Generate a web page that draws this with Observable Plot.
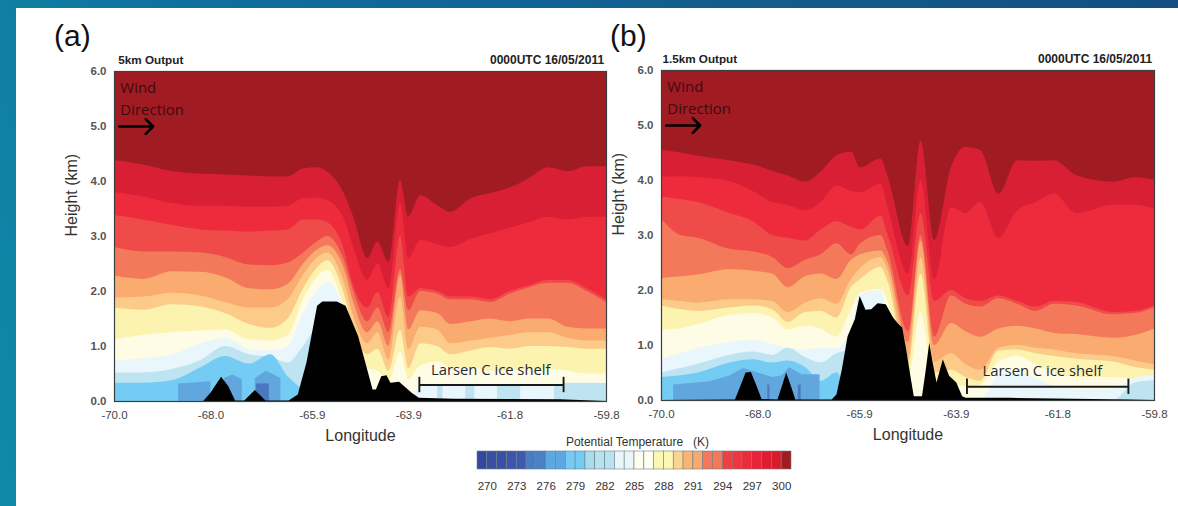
<!DOCTYPE html>
<html>
<head>
<meta charset="utf-8">
<script src="https://cdn.jsdelivr.net/npm/d3@7"></script>
<script src="https://cdn.jsdelivr.net/npm/@observablehq/plot@0.6"></script>
<style>
html,body{margin:0;padding:0;width:1178px;height:506px;overflow:hidden;background:linear-gradient(75deg,#0f8aa8 0%,#0f6f9c 25%,#125f90 60%,#134f80 100%);}
#sheet{position:absolute;left:16px;top:8px;width:1162px;height:498px;background:#fff;}
.abs{position:absolute;}
.abs svg{display:block;background:transparent;}
.tag{position:absolute;font:30px "Liberation Sans",Arial,sans-serif;color:#111;}
</style>
</head>
<body>
<div id="sheet"></div>
<div class="tag" style="left:54px;top:19px">(a)</div>
<div class="tag" style="left:610px;top:19px">(b)</div>
<div id="pa" class="abs" style="left:56px;top:40px"></div>
<div id="pb" class="abs" style="left:603px;top:40px"></div>
<div id="cb" class="abs" style="left:440px;top:430px"></div>
<script>
// ---------- shared -----------
const bandColors = ["#d81f33","#ee2b3c","#ef4c49","#f3795a","#f9ab70","#fccb8a","#fdf3b0","#fffce6","#e9f6fb","#bde4f0","#74ccf4"];
const topColor = "#a01c22";
const xTicks = [-70,-68,-65.9,-63.9,-61.8,-59.8];
const yTicks = [0,1,2,3,4,5,6];

// ---------- panel (a) 5 km -----------
const lonA = [-70,-69.4,-68.8,-68.2,-67.7,-67.2,-66.76,-66.4,-66.08,-65.8,-65.58,-65.25,-65.04,-64.75,-64.54,-64.31,-64.07,-63.9,-63.65,-63.3,-63.03,-62.6,-62.2,-61.8,-61.4,-61,-60.6,-60.2,-59.8];
const a1 = [4.38,4.3,4.18,4.13,4.12,4.1,4.08,4.08,4.23,4.25,4.17,3.8,3.35,2.6,2.9,2.53,4.02,3.35,3.74,3.56,3.44,3.69,3.78,3.88,4.05,4.25,4.18,4.27,4.27];
const a2 = [3.8,3.72,3.6,3.55,3.55,3.53,3.53,3.55,3.69,3.7,3.65,3.35,2.8,2.2,2.5,2.05,3.6,2.6,2.93,2.85,2.8,2.95,3.05,3.15,3.25,3.35,3.3,3.35,3.35];
const a3 = [3.38,3.3,3.2,3.12,3.1,3.08,3.1,3.12,3.3,3.3,3.25,2.8,2.1,1.7,1.98,1.52,3.0,1.9,2.05,2.0,1.9,1.9,1.85,2.0,2.1,2.2,2.2,2.05,1.85];
const a4 = [2.8,2.72,2.72,2.7,2.62,2.48,2.47,2.52,2.7,2.9,3.0,2.6,2.0,1.45,1.7,1.25,2.4,1.65,2.0,1.95,1.85,1.85,1.8,1.95,2.07,2.15,2.15,2.0,1.8];
const a5 = [2.28,2.22,2.36,2.35,2.25,2.05,2.03,2.13,2.5,2.75,2.83,2.45,1.8,1.25,1.45,1.0,2.3,1.3,1.65,1.6,1.4,1.45,1.5,1.45,1.5,1.5,1.35,1.32,1.32];
const a6 = [1.88,1.9,1.97,1.92,1.8,1.7,1.7,1.85,2.3,2.6,2.7,2.2,1.55,1.05,1.25,.75,1.9,.95,1.35,1.3,1.05,1.1,1.15,1.2,1.25,1.25,1.15,1.1,1.1];
const a7 = [1.7,1.66,1.76,1.72,1.6,1.4,1.33,1.5,2.05,2.42,2.56,2.0,1.3,.85,.95,.55,1.3,.6,1.05,1.0,.85,.92,.98,.95,1.0,1.0,.98,.95,.95];
const a8 = [1.12,1.2,1.25,1.28,1.3,1.12,1.1,1.2,1.85,2.25,2.38,1.75,1.05,.6,.55,.35,.9,.4,.65,.72,.62,.62,.55,.55,.58,.58,.55,.5,.5];
const a9 = [.73,.78,.85,1.05,1.15,.95,.92,1.0,1.6,2.0,2.16,1.7,.75,.4,0,0,0,0,.28,.28,.3,.3,.3,.3,.3,.3,.3,.3,.32];
const a10 = [.52,.52,.58,.75,1.0,.85,.8,.7,1.0,1.3,0,0,0,0,0,0,0,0,0,0,0,0,0,0,0,0,0,0,0];
const a11 = [.33,.33,.38,.62,.82,.68,.85,.45,.2,0,0,0,0,0,0,0,0,0,0,0,0,0,0,0,0,0,0,0,0];
const bandsA = [a1,a2,a3,a4,a5,a6,a7,a8,a9,a10,a11];
const terrLonA = [-70,-68.15,-68,-67.78,-67.63,-67.49,-67.3,-67.08,-66.86,-66.38,-66.19,-66.01,-65.79,-65.68,-65.38,-65.2,-64.94,-64.79,-64.64,-64.57,-64.46,-64.35,-64.27,-64.09,-63.83,-63.68,-62.98,-60.76,-59.8];
const terrA = [0,0,.15,.44,.27,.01,.01,.2,.01,.01,.12,.7,1.73,1.81,1.81,1.73,1.18,.7,.21,.21,.45,.47,.33,.35,.15,.06,.04,.03,0];
const blueLonA = [-68.67,-68.67,-68.0,-68.0,-67.72,-67.72,-67.55,-67.35,-67.35,-67.08,-67.08,-66.85,-66.55,-66.55];
const blueA = [0,.32,.36,0,0,.42,.48,.4,0,0,.42,.55,.42,0];
const patchesA = [
  [-67.06,-66.79,.32,"#4a78c0"],
  [-63.3,-63.19,.3,"#bde4f0"],[-62.72,-62.53,.3,"#bde4f0"],[-62.06,-61.58,.3,"#bde4f0"],[-60.88,-60.7,.3,"#bde4f0"],[-60.7,-59.8,.33,"#bde4f0"]
];

// ---------- panel (b) 1.5 km -----------
const lonB = [-70,-69.6,-69.24,-68.59,-68.1,-67.7,-67.38,-67.02,-66.7,-66.37,-66.07,-65.88,-65.46,-65.31,-64.89,-64.63,-64.35,-64,-63.7,-63.4,-63.02,-62.63,-62.25,-61.87,-61.41,-60.65,-60.2,-59.8];
const b1 = [4.55,4.5,4.44,4.36,4.28,4.17,4.08,3.97,4.15,4.45,4.52,4.23,4.39,4.06,2.79,4.72,2.91,4.24,4.6,4.55,3.75,4.36,4.35,4.36,4.09,3.97,4.05,4.01];
const b2 = [4.06,4.07,4.05,3.98,3.8,3.6,3.55,3.45,3.6,3.9,3.8,3.78,3.94,3.5,2.3,4.0,2.2,3.5,3.4,3.6,2.95,3.45,3.6,3.76,3.4,3.55,3.55,3.48];
const b3 = [3.7,3.65,3.6,3.4,3.25,3.0,2.95,2.9,3.1,3.25,3.15,3.1,3.35,3.0,1.9,3.4,1.8,2.0,1.85,1.8,1.9,1.8,1.7,1.8,1.78,1.6,1.62,1.72];
const b4 = [3.3,3.0,2.95,2.75,2.7,2.6,2.4,2.55,2.65,2.85,2.65,2.85,3.0,2.7,1.25,3.0,1.15,1.9,1.75,1.7,1.85,1.75,1.62,1.75,1.72,1.56,1.58,1.68];
const b5 = [2.22,2.25,2.28,2.38,2.35,2.3,2.05,2.25,2.3,2.2,2.55,2.65,2.72,2.5,1.05,2.9,1.0,1.4,1.25,1.15,1.3,1.35,1.3,1.22,1.2,1.13,1.18,1.3];
const b6 = [1.83,1.8,1.77,1.83,1.83,1.8,1.6,1.77,1.85,1.75,2.2,2.4,2.6,2.35,.75,2.6,.7,.85,.65,.55,.95,1.0,.95,.92,.85,.8,.72,.65];
const b7 = [1.72,1.65,1.62,1.68,1.72,1.65,1.42,1.6,1.62,1.5,2.05,2.2,2.42,2.15,.6,2.3,.5,.55,.42,.35,.9,.92,.85,.8,.75,.7,.6,.55];
const b8 = [1.28,1.3,1.38,1.55,1.58,1.5,1.28,1.35,1.3,1.15,1.65,1.95,2.02,1.8,.35,1.6,.3,.3,.25,.28,.7,.8,.65,.5,.42,.42,.38,.35];
const b9 = [.75,.85,.95,1.05,1.1,1.02,.95,.92,.95,.95,1.3,1.92,2.0,1.5,0,0,0,0,0,0,.45,.5,.4,.25,.2,.2,.4,.45];
const b10 = [.5,.58,.66,.82,.88,.82,.95,.78,.68,.85,.9,0,0,0,0,0,0,0,0,0,0,0,0,0,0,0,.32,.36];
const b11 = [.42,.45,.5,.68,.74,.68,.72,.6,.35,.5,0,0,0,0,0,0,0,0,0,0,0,0,0,0,0,0,0,0];
const bandsB = [b1,b2,b3,b4,b5,b6,b7,b8,b9,b10,b11];
const terrLonB = [-70,-68.47,-68.36,-68.25,-68.14,-68.02,-67.92,-67.59,-67.5,-67.41,-67.31,-67.22,-66.47,-66.37,-66.26,-66.14,-65.99,-65.89,-65.77,-65.65,-65.52,-65.35,-65.2,-65.09,-65.01,-64.94,-64.83,-64.77,-64.6,-64.53,-64.45,-64.38,-64.3,-64.17,-64.04,-63.89,-63.77,-63.7,-62.8,-60.32,-59.8];
const terrB = [0,.01,.25,.5,.51,.25,.02,.01,.25,.5,.25,.01,.01,.1,.55,1.16,1.47,1.89,1.64,1.65,1.76,1.74,1.5,1.38,1.32,.98,.38,.07,.07,.5,1.04,.68,.32,.74,.44,.32,.07,.04,.04,.01,0];
const blueLonB = [-69.75,-69.75,-69,-68.6,-68.3,-68,-67.7,-67.5,-67.35,-67.1,-66.72,-66.72];
const blueB = [0,.28,.34,.44,.58,.5,.42,.45,.6,.47,.47,0];
const patchesB = [
  [-67.8,-67.76,.28,"#4a78c0"],[-67.17,-67.11,.28,"#4a78c0"]
];

// ---------- colour bar -----------
const barTemps = d3.range(269,301);
const barColors = ["#36489e","#3a4ea4","#3a50a6","#3d55ac","#3e59b0","#4a7cc2","#4b80c6","#5ea8e0","#5ea8e0","#74ccf4","#74ccf4","#a6dcee","#b8e2ef","#b8e2ef","#e8f5f9","#e8f5f9","#fdfdf0","#fdfdf0","#fdf7b4","#fdf7b4","#fcd491","#fbb474","#f9aa6e","#f4785a","#f4785a","#ef3f42","#ee3540","#ee2b3c","#ea2438","#dc1f30","#d81c2c","#a01c22"];
const barTicks = [270,273,276,279,282,285,288,291,294,297,300];

function panel(el,opts){
  const {lon,bands,terrLon,terr,blueLon,blue,patches,title,marginLeft,w,brLon,brH,txtLon,txtH,frameTop,frameH,titleDy} = opts;
  const idx = d3.range(lon.length);
  const tIdx = d3.range(terrLon.length);
  const bIdx = d3.range(blueLon.length);
  const curve = "monotone-x";
  const marks = [
    Plot.frame({fill:topColor,stroke:null}),
    ...bands.map((b,k)=>Plot.areaY(idx,{x:i=>lon[i],y:i=>b[i],fill:bandColors[k],curve})),
    Plot.areaY(bIdx,{x:i=>blueLon[i],y:i=>blue[i],fill:"#62a6de"}),
    Plot.rect(patches,{x1:d=>d[0],x2:d=>d[1],y1:0,y2:d=>d[2],fill:d=>d[3],inset:0}),
    Plot.areaY(tIdx,{x:i=>terrLon[i],y:i=>terr[i],fill:"#000"}),
    Plot.frame({stroke:"#3a3f42",strokeWidth:1.2}),
    Plot.text(["Wind"],{x:lon[0]+0.12,y:5.7,text:d=>d,textAnchor:"start",fontFamily:"Open Sans",fontSize:15,fill:"#3f0a10"}),
    Plot.text(["Direction"],{x:lon[0]+0.12,y:5.3,text:d=>d,textAnchor:"start",fontFamily:"Open Sans",fontSize:15,fill:"#3f0a10"}),
    Plot.arrow([0],{x1:lon[0]+0.1,x2:lon[0]+0.8,y1:5.0,y2:5.0,stroke:"#000",strokeWidth:2.6,headLength:6,headAngle:90}),
    Plot.link([0],{x1:brLon[0],x2:brLon[1],y1:brH,y2:brH,stroke:"#1a1a1a",strokeWidth:1.8}),
    Plot.ruleX(brLon,{y1:brH-.14,y2:brH+.14,stroke:"#1a1a1a",strokeWidth:1.9}),
    Plot.text(["Larsen C ice shelf"],{x:txtLon,y:txtH,text:d=>d,fontFamily:"Open Sans",fontSize:14.8,fill:"#1f2a38"}),
    Plot.text([title],{x:lon[0]+titleDy,y:6,dy:-11,text:d=>d,textAnchor:"start",fontFamily:"Liberation Sans",fontWeight:"bold",fontSize:11.7,fill:"#222"}),
    Plot.text(["0000UTC 16/05/2011"],{x:-59.85,y:6,dy:-11,text:d=>d,textAnchor:"end",fontFamily:"Liberation Sans",fontWeight:"bold",fontSize:12,fill:"#222"}),
    Plot.axisX({ticks:xTicks,tickSize:0,tickPadding:9,tickFormat:d=>d.toFixed(1),fontSize:11.5,fontFamily:"Liberation Sans",fill:"#444",label:null}),
    Plot.axisY({ticks:yTicks,tickSize:0,tickPadding:8,tickFormat:d=>d.toFixed(1),fontSize:11.5,fontFamily:"Liberation Sans",fontWeight:"bold",fill:"#555",label:null}),
    Plot.text(["Longitude"],{frameAnchor:"bottom",dy:39,text:d=>d,fontFamily:"Liberation Sans",fontSize:16,fill:"#333"}),
    Plot.text(["Height (km)"],{frameAnchor:"left",y:3,dx:-43,rotate:-90,text:d=>d,fontFamily:"Liberation Sans",fontSize:16,fill:"#333"})
  ];
  const p = Plot.plot({
    width:w,height:420,marginLeft,marginRight:w-marginLeft-opts.pw,marginTop:frameTop,marginBottom:420-frameTop-frameH,
    x:{domain:[-70,-59.8],axis:null},y:{domain:[0,6],axis:null},
    style:{background:"transparent",overflow:"visible"},
    marks
  });
  document.getElementById(el).appendChild(p);
}

panel("pa",{lon:lonA,bands:bandsA,terrLon:terrLonA,terr:terrA,blueLon:blueLonA,blue:blueA,patches:patchesA,title:"5km Output",marginLeft:58,w:560,pw:492,
  brLon:[-63.68,-60.69],brH:.3,txtLon:-62.2,txtH:.56,frameTop:31,frameH:330,titleDy:.08});
panel("pb",{lon:lonB,bands:bandsB,terrLon:terrLonB,terr:terrB,blueLon:blueLonB,blue:blueB,patches:patchesB,title:"1.5km Output",marginLeft:58,w:570,pw:493,
  brLon:[-63.68,-60.34],brH:.25,txtLon:-62.12,txtH:.53,frameTop:30,frameH:330,titleDy:.02});

const cb = Plot.plot({
  width:380,height:70,marginLeft:37,marginRight:29,marginTop:21,marginBottom:31,
  x:{domain:[269,301],axis:null},y:{axis:null},
  style:{background:"transparent",overflow:"visible"},
  marks:[
    Plot.rectY(barTemps,{x1:d=>d,x2:d=>d+1,y1:0,y2:1,fill:(d,i)=>barColors[i],stroke:"#6f7f85",strokeWidth:.6}),
    Plot.axisX({ticks:barTicks,tickSize:0,tickPadding:12,fontSize:11.5,fontFamily:"Liberation Sans",fill:"#333",label:null}),
    Plot.text(["Potential Temperature   (K)"],{frameAnchor:"top",dy:-14,dx:3,text:d=>d,fontFamily:"Liberation Sans",fontSize:12,fill:"#333"})
  ]
});
document.getElementById("cb").appendChild(cb);
</script>
</body>
</html>
